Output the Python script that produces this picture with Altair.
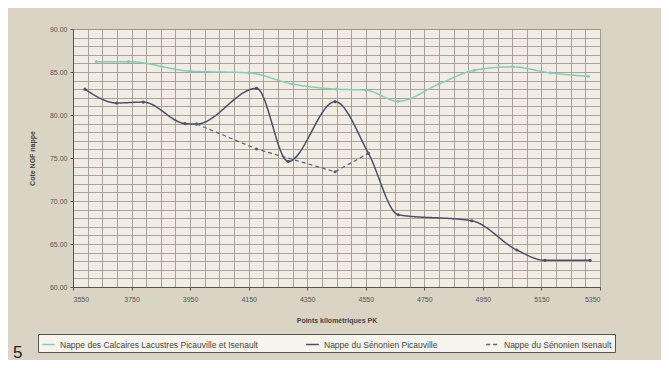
import altair as alt
import pandas as pd

# ---- data ----
s1_name = "Nappe des Calcaires Lacustres Picauville et Isenault"
s1_x = [3630, 3740, 3950, 4150, 4300, 4450, 4550, 4660, 4800, 4920, 5050, 5180, 5310]
s1_y = [86.2, 86.2, 85.1, 84.9, 83.6, 83.0, 82.9, 81.6, 83.6, 85.2, 85.6, 84.9, 84.5]

s2_name = "Nappe du Sénonien Picauville"
s2_x = [3591, 3699, 3790, 3933, 3972, 4177, 4285, 4445, 4559, 4661, 4912, 5066, 5162, 5316]
s2_y = [83.0, 81.4, 81.5, 79.0, 78.95, 83.1, 74.6, 81.55, 75.55, 68.4, 67.7, 64.3, 63.1, 63.1]

s3_name = "Nappe du Sénonien Isenault"
s3_x = [3972, 4177, 4445, 4559]
s3_y = [78.95, 76.05, 73.4, 75.55]

x_grid = list(range(3550, 5351, 50))
y_grid = list(range(60, 91, 1))

names = [s1_name, s2_name, s3_name]
colors = ["#86cbbb", "#4b4f6b", "#5b5f7a"]
dashes = [[1, 0], [1, 0], [4, 3]]

rows = []
for n, xs, ys in [(s1_name, s1_x, s1_y), (s2_name, s2_x, s2_y), (s3_name, s3_x, s3_y)]:
    for a, b in zip(xs, ys):
        rows.append({"serie": n, "pk": a, "cote": b})
df = pd.DataFrame(rows)

label_font = "Liberation Sans"

x_enc = alt.X(
    "pk:Q",
    scale=alt.Scale(domain=[3550, 5350], nice=False, zero=False),
    axis=alt.Axis(
        values=x_grid,
        title="Points kilométriques PK",
        labelExpr="(datum.value - 3550) % 200 === 0 ? datum.label : ''",
        format="d",
        tickOpacity={"expr": "(datum.value - 3550) % 200 === 0 ? 1 : 0"},
        tickSize=3,
        labelFontSize=7,
        labelColor="#555555",
        titleFontSize=7,
        titleFontWeight="bold",
        titleColor="#444444",
        titlePadding=14,
        labelPadding=5,
        gridColor="#a39a90",
        gridWidth=1,
        gridOpacity=0.9,
        domainColor="#555555",
        tickColor="#555555",
        labelFont=label_font,
        titleFont=label_font,
    ),
)
y_enc = alt.Y(
    "cote:Q",
    scale=alt.Scale(domain=[60, 90], nice=False, zero=False),
    axis=alt.Axis(
        values=y_grid,
        title="Cote NGF nappe",
        format=".2f",
        labelExpr="datum.value % 5 === 0 ? datum.label : ''",
        tickOpacity={"expr": "datum.value % 5 === 0 ? 1 : 0"},
        tickSize=3,
        labelFontSize=7,
        labelColor="#555555",
        titleFontSize=7,
        titleFontWeight="bold",
        titleColor="#444444",
        titlePadding=14,
        labelPadding=3,
        gridColor="#a39a90",
        gridWidth=1,
        gridOpacity=0.9,
        domainColor="#555555",
        tickColor="#555555",
        labelFont=label_font,
        titleFont=label_font,
    ),
)

color_enc = alt.Color(
    "serie:N",
    scale=alt.Scale(domain=names, range=colors),
    legend=alt.Legend(
        title=None,
        orient="none",
        direction="horizontal",
        legendX=-35,
        legendY=305,
        fillColor="#f7f4ee",
        strokeColor="#555555",
        padding=3,
        labelFontSize=8.5,
        labelColor="#444444",
        labelFont=label_font,
        labelLimit=400,
        symbolType="stroke",
        symbolSize=160,
        symbolStrokeWidth=1.5,
        columnPadding=45,
    ),
)
dash_enc = alt.StrokeDash(
    "serie:N",
    scale=alt.Scale(domain=names, range=dashes),
    legend=None,
)

smooth = (
    alt.Chart(df)
    .transform_filter(alt.FieldOneOfPredicate(field="serie", oneOf=[s1_name, s2_name]))
    .mark_line(interpolate="monotone", strokeWidth=1.5,
               point=alt.OverlayMarkDef(size=10, filled=True))
    .encode(x=x_enc, y=y_enc, color=color_enc, strokeDash=dash_enc)
)
dashed = (
    alt.Chart(df)
    .transform_filter(alt.FieldEqualPredicate(field="serie", equal=s3_name))
    .mark_line(strokeWidth=1.2, point=alt.OverlayMarkDef(size=10, filled=True))
    .encode(x=x_enc, y=y_enc, color=color_enc, strokeDash=dash_enc)
)
caption = alt.Chart(pd.DataFrame({"t": ["5"]})).mark_text(
    fontSize=17, font=label_font, color="#222222", align="left", baseline="bottom"
).encode(text="t:N", x=alt.value(-60), y=alt.value(333))

chart = (
    alt.layer(smooth, dashed, caption)
    .properties(
        width=527,
        height=258,
        padding={"left": 65, "top": 21, "right": 61, "bottom": 73},
        autosize=alt.AutoSizeParams(type="none"),
        background="#d9d4c3",
    )
    .configure_view(fill="#f1ece4", stroke="#8f877d")
)

chart.save("out.html", embed_options={"renderer": "svg", "actions": False})
